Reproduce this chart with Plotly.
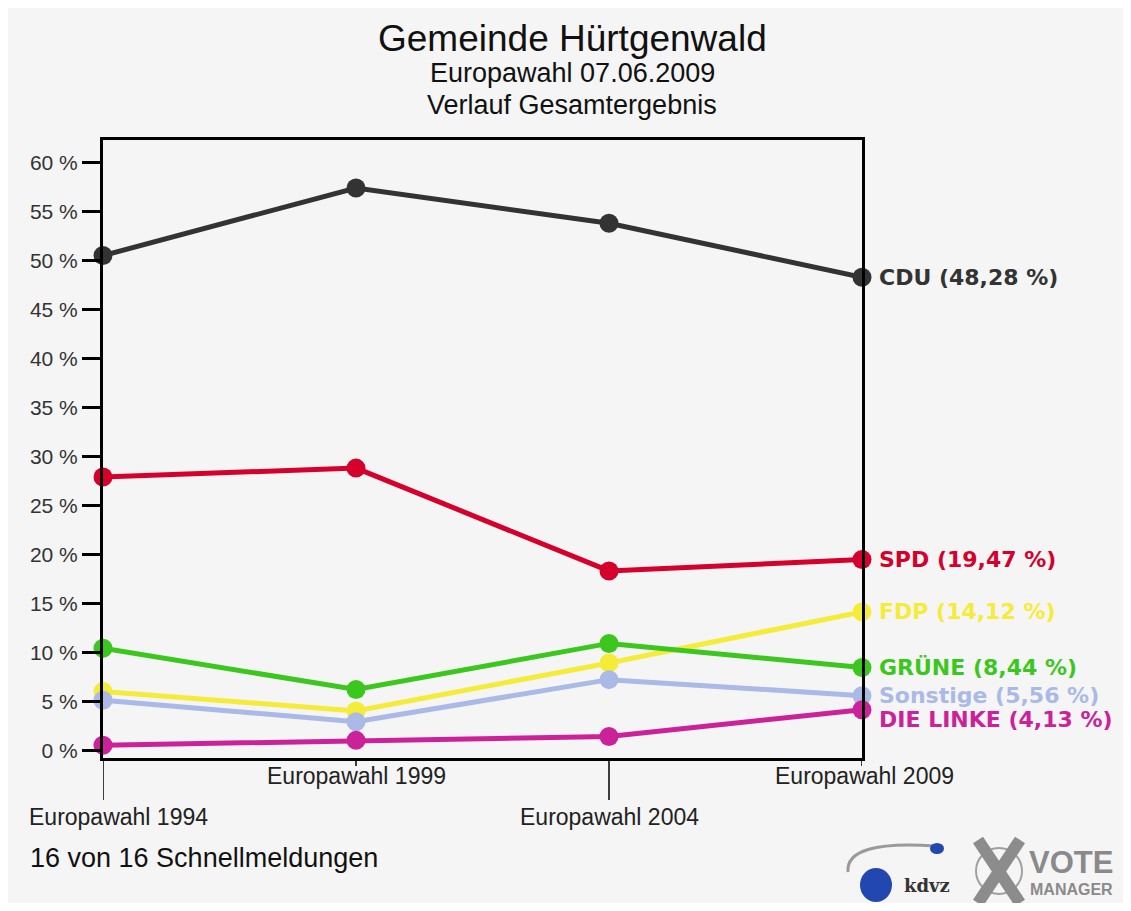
import plotly.graph_objects as go

# Data
wahlen = ["Europawahl 1994", "Europawahl 1999", "Europawahl 2004", "Europawahl 2009"]
parteien = ["CDU", "SPD", "FDP", "GRÜNE", "Sonstige", "DIE LINKE"]
cdu = [50.5, 57.4, 53.8, 48.28]
spd = [27.9, 28.8, 18.3, 19.47]
fdp = [6.0, 4.0, 8.9, 14.12]
gruene = [10.4, 6.2, 10.9, 8.44]
sonstige = [5.1, 2.9, 7.2, 5.56]
linke = [0.5, 1.0, 1.4, 4.13]
end_labels = ["48,28 %", "19,47 %", "14,12 %", "8,44 %", "5,56 %", "4,13 %"]
y_ticks = list(range(0, 61, 5))
y_ticktext = [f"{v} %" for v in y_ticks]

series = [cdu, spd, fdp, gruene, sonstige, linke]
colors = ["#333333", "#d5002b", "#f5ec3a", "#3cc71e", "#aab9e6", "#cc2299"]
label_shift = [0, 0, 0, 0, 0, -10]
xlabel_shift = [15, 0, 0, 2]

BG = "#f5f5f5"
FONT = "Liberation Sans, Arial, sans-serif"
BOLD = "DejaVu Sans, sans-serif"

# plot frame in page pixels (page body adds 8px offset)
L, R, T, B = 103, 862, 140, 758


def px(x):
    return (x - L) / (R - L)


def py(y):
    return (B - y) / (B - T)


fig = go.Figure()
for name, vals, col, shift, lab in zip(parteien, series, colors, label_shift, end_labels):
    fig.add_trace(go.Scatter(
        x=wahlen, y=vals, name=name, mode="lines+markers",
        line=dict(color=col, width=5),
        marker=dict(color=col, size=19),
        cliponaxis=False,
    ))
    fig.add_annotation(
        x=wahlen[-1], y=vals[-1], text=f"<b>{name} ({lab})</b>",
        xanchor="left", yanchor="middle", xshift=15, yshift=shift,
        showarrow=False, font=dict(family=BOLD, size=22, color=col),
    )

# staggered category labels with tick lines
for i, w in enumerate(wahlen):
    low = i % 2 == 0
    fig.add_shape(type="line", xref="x", yref="paper", x0=w, x1=w,
                  y0=0, y1=py(800) if low else py(766),
                  line=dict(color="black", width=1.5))
    fig.add_annotation(x=w, y=py(817) if low else py(776), xref="x", yref="paper",
                       text=w, showarrow=False, yanchor="middle", xshift=xlabel_shift[i],
                       font=dict(family=FONT, size=23, color="#222222"))

titles = [("Gemeinde Hürtgenwald", 38, 37), ("Europawahl 07.06.2009", 73, 27),
          ("Verlauf Gesamtergebnis", 105, 27)]
for txt, ypix, size in titles:
    fig.add_annotation(text=txt, x=px(572), y=py(ypix), xref="paper", yref="paper",
                       showarrow=False, yanchor="middle",
                       font=dict(family=FONT, size=size, color="#111111"))

fig.add_annotation(text="16 von 16 Schnellmeldungen", x=px(28), y=py(858),
                   xref="paper", yref="paper", xanchor="left", yanchor="middle",
                   showarrow=False, font=dict(family=FONT, size=27, color="#111111"))

# logo approximation
fig.add_shape(type="path", xref="paper", yref="paper",
              path=f"M {px(935)},{py(846)} Q {px(845)},{py(840)} {px(848)},{py(872)}",
              line=dict(color="#9a9a9a", width=3))
fig.add_shape(type="circle", xref="paper", yref="paper",
              x0=px(860), x1=px(892), y0=py(902), y1=py(868),
              fillcolor="#2347b0", line=dict(width=0))
fig.add_shape(type="circle", xref="paper", yref="paper",
              x0=px(930), x1=px(944), y0=py(854), y1=py(843),
              fillcolor="#2347b0", line=dict(width=0))
fig.add_annotation(text="<b>kdvz</b>", x=px(902), y=py(885), xref="paper", yref="paper",
                   xanchor="left", yanchor="middle", showarrow=False,
                   font=dict(family="DejaVu Serif", size=18, color="#333333"))
fig.add_shape(type="circle", xref="paper", yref="paper",
              x0=px(976), x1=px(1022), y0=py(894), y1=py(848),
              line=dict(color="#a0a0a0", width=2))
for x0, y0, x1, y1 in [(978, 840, 1020, 903), (1020, 840, 978, 903)]:
    fig.add_shape(type="line", xref="paper", yref="paper",
                  x0=px(x0), y0=py(y0), x1=px(x1), y1=py(y1),
                  line=dict(color="#8c8c8c", width=12))
fig.add_annotation(text="<b>VOTE</b>", x=px(1027), y=py(862), xref="paper", yref="paper",
                   xanchor="left", yanchor="middle", showarrow=False,
                   font=dict(family=FONT, size=31, color="#8a8a8a"))
fig.add_annotation(text="<b>MANAGER</b>", x=px(1028), y=py(889), xref="paper", yref="paper",
                   xanchor="left", yanchor="middle", showarrow=False,
                   font=dict(family=FONT, size=16, color="#8a8a8a"))

fig.update_layout(
    width=1115, height=895,
    margin=dict(l=L - 8, r=1123 - R, t=T - 8, b=911 - B - 8),
    paper_bgcolor=BG, plot_bgcolor=BG,
    showlegend=False,
    font=dict(family=FONT),
    xaxis=dict(type="category", range=[0, 3], showticklabels=False, ticks="",
               showgrid=False, zeroline=False, showline=True, mirror=True,
               linecolor="black", linewidth=3),
    yaxis=dict(range=[-0.8, 62.3], tickvals=y_ticks, ticktext=y_ticktext,
               ticks="outside", ticklen=18, tickwidth=3, tickcolor="black",
               showgrid=False, zeroline=False, showline=True, mirror=True,
               linecolor="black", linewidth=3,
               tickfont=dict(family=FONT, size=21, color="#333333")),
)

fig.write_html("out.html")
